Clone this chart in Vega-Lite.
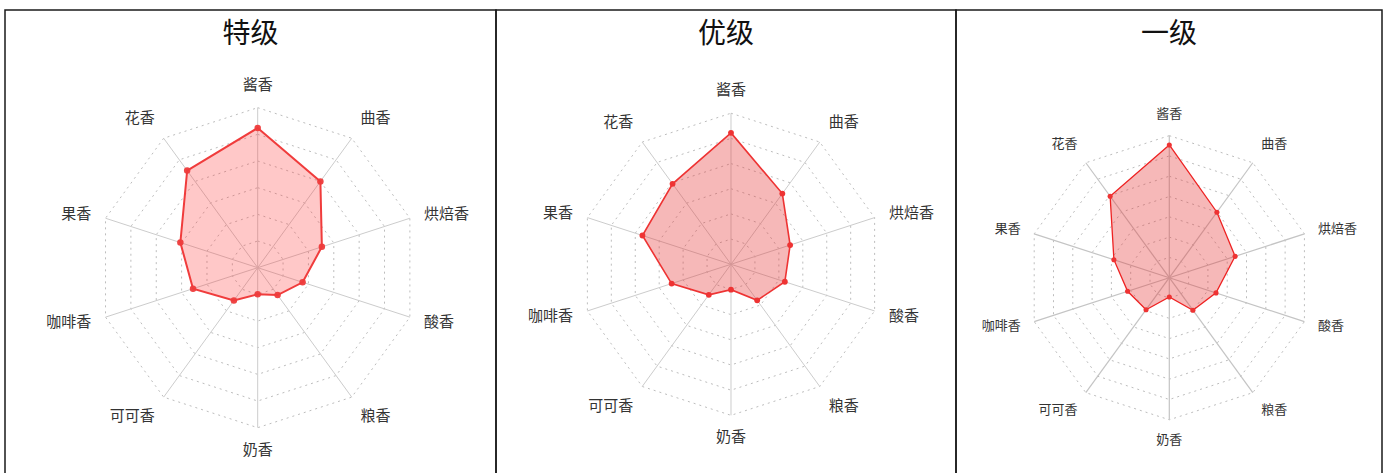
{
  "$schema": "https://vega.github.io/schema/vega-lite/v6.json",
  "padding": {"left": 4, "top": 9, "right": 0, "bottom": 0},
  "spacing": 0,
  "bounds": "flush",
  "background": "white",
  "config": {
    "view": {"stroke": "#1a1a1a", "strokeWidth": 1.5},
    "font": "Noto Sans CJK SC",
    "title": {"font": "Noto Sans CJK SC", "fontSize": 28, "fontWeight": "normal", "color": "#111", "frame": "group", "anchor": "middle", "baseline": "middle", "offset": -39}
  },
  "datasets": {
    "axes": [
      {"idx": 0, "aroma": "酱香"}, {"idx": 1, "aroma": "曲香"}, {"idx": 2, "aroma": "烘焙香"},
      {"idx": 3, "aroma": "酸香"}, {"idx": 4, "aroma": "粮香"}, {"idx": 5, "aroma": "奶香"},
      {"idx": 6, "aroma": "可可香"}, {"idx": 7, "aroma": "咖啡香"}, {"idx": 8, "aroma": "果香"},
      {"idx": 9, "aroma": "花香"}
    ],
    "rings": [
      {"level": 1, "idx": [0,1,2,3,4,5,6,7,8,9]},
      {"level": 2, "idx": [0,1,2,3,4,5,6,7,8,9]},
      {"level": 3, "idx": [0,1,2,3,4,5,6,7,8,9]},
      {"level": 4, "idx": [0,1,2,3,4,5,6,7,8,9]},
      {"level": 5, "idx": [0,1,2,3,4,5,6,7,8,9]},
      {"level": 6, "idx": [0,1,2,3,4,5,6,7,8,9]},
      {"level": 7, "idx": [0,1,2,3,4,5,6,7,8,9]}
    ],
    "scores": [
      {"grade": "特级", "aroma": "酱香", "idx": 0, "value": 5.24},
      {"grade": "特级", "aroma": "曲香", "idx": 1, "value": 4.0},
      {"grade": "特级", "aroma": "烘焙香", "idx": 2, "value": 2.53},
      {"grade": "特级", "aroma": "酸香", "idx": 3, "value": 1.77},
      {"grade": "特级", "aroma": "粮香", "idx": 4, "value": 1.27},
      {"grade": "特级", "aroma": "奶香", "idx": 5, "value": 1.0},
      {"grade": "特级", "aroma": "可可香", "idx": 6, "value": 1.52},
      {"grade": "特级", "aroma": "咖啡香", "idx": 7, "value": 2.55},
      {"grade": "特级", "aroma": "果香", "idx": 8, "value": 3.05},
      {"grade": "特级", "aroma": "花香", "idx": 9, "value": 4.5},
      {"grade": "优级", "aroma": "酱香", "idx": 0, "value": 5.22},
      {"grade": "优级", "aroma": "曲香", "idx": 1, "value": 3.47},
      {"grade": "优级", "aroma": "烘焙香", "idx": 2, "value": 2.47},
      {"grade": "优级", "aroma": "酸香", "idx": 3, "value": 2.25},
      {"grade": "优级", "aroma": "粮香", "idx": 4, "value": 1.77},
      {"grade": "优级", "aroma": "奶香", "idx": 5, "value": 1.01},
      {"grade": "优级", "aroma": "可可香", "idx": 6, "value": 1.5},
      {"grade": "优级", "aroma": "咖啡香", "idx": 7, "value": 2.48},
      {"grade": "优级", "aroma": "果香", "idx": 8, "value": 3.7},
      {"grade": "优级", "aroma": "花香", "idx": 9, "value": 3.95},
      {"grade": "一级", "aroma": "酱香", "idx": 0, "value": 6.54},
      {"grade": "一级", "aroma": "曲香", "idx": 1, "value": 3.99},
      {"grade": "一级", "aroma": "烘焙香", "idx": 2, "value": 3.41},
      {"grade": "一级", "aroma": "酸香", "idx": 3, "value": 2.42},
      {"grade": "一级", "aroma": "粮香", "idx": 4, "value": 1.98},
      {"grade": "一级", "aroma": "奶香", "idx": 5, "value": 0.95},
      {"grade": "一级", "aroma": "可可香", "idx": 6, "value": 1.95},
      {"grade": "一级", "aroma": "咖啡香", "idx": 7, "value": 2.16},
      {"grade": "一级", "aroma": "果香", "idx": 8, "value": 2.87},
      {"grade": "一级", "aroma": "花香", "idx": 9, "value": 4.96}
    ]
  },
  "hconcat": [
    {
      "width": 491, "height": 465,
      "title": {"text": "特级"},
      "encoding": {
        "x": {"field": "x", "type": "quantitative", "scale": {"domain": [-9.476, 8.936], "nice": false, "zero": false}, "axis": null},
        "y": {"field": "y", "type": "quantitative", "scale": {"domain": [-7.774, 9.663], "nice": false, "zero": false}, "axis": null}
      },
      "layer": [
        {
          "data": {"name": "rings"},
          "transform": [
            {"filter": "datum.level <= 6"},
            {"flatten": ["idx"]},
            {"calculate": "datum.level*sin(datum.idx*PI/5)", "as": "x"},
            {"calculate": "datum.level*cos(datum.idx*PI/5)", "as": "y"}
          ],
          "mark": {"type": "line", "interpolate": "linear-closed", "stroke": "#bdbdbd", "strokeWidth": 1, "strokeDash": [2, 4]},
          "encoding": {"detail": {"field": "level"}, "order": {"field": "idx", "type": "quantitative"}}
        },
        {
          "data": {"name": "axes"},
          "transform": [
            {"calculate": "6*sin(datum.idx*PI/5)", "as": "x"},
            {"calculate": "6*cos(datum.idx*PI/5)", "as": "y"}
          ],
          "mark": {"type": "rule", "stroke": "#cccccc", "strokeWidth": 1},
          "encoding": {"x2": {"datum": 0}, "y2": {"datum": 0}}
        },
        {
          "data": {"name": "axes"},
          "transform": [
            {"calculate": "6.56*sin(datum.idx*PI/5)", "as": "x"},
            {"calculate": "6.56*cos(datum.idx*PI/5)", "as": "y"}
          ],
          "mark": {"type": "text", "fontSize": 15, "color": "#333",
            "align": {"expr": "datum.idx == 0 || datum.idx == 5 ? 'center' : (datum.idx < 5 ? 'left' : 'right')"},
            "baseline": {"expr": "datum.idx <= 1 || datum.idx == 9 ? 'bottom' : (datum.idx >= 4 && datum.idx <= 6 ? 'top' : 'middle')"}},
          "encoding": {"text": {"field": "aroma"}}
        },
        {
          "data": {"name": "scores"},
          "transform": [
            {"filter": "datum.grade == '特级'"},
            {"calculate": "datum.value*sin(datum.idx*PI/5)", "as": "x"},
            {"calculate": "datum.value*cos(datum.idx*PI/5)", "as": "y"}
          ],
          "mark": {"type": "line", "interpolate": "linear-closed", "fill": "#ff3333", "fillOpacity": 0.27, "stroke": "#f03c3c", "strokeWidth": 2},
          "encoding": {"order": {"field": "idx", "type": "quantitative"}}
        },
        {
          "data": {"name": "scores"},
          "transform": [
            {"filter": "datum.grade == '特级'"},
            {"calculate": "datum.value*sin(datum.idx*PI/5)", "as": "x"},
            {"calculate": "datum.value*cos(datum.idx*PI/5)", "as": "y"}
          ],
          "mark": {"type": "circle", "color": "#ee3b3b", "opacity": 0.95, "size": 42}
        }
      ]
    },
    {
      "width": 460, "height": 465,
      "title": {"text": "优级"},
      "encoding": {
        "x": {"field": "x", "type": "quantitative", "scale": {"domain": [-9.337, 8.94], "nice": false, "zero": false}, "axis": null},
        "y": {"field": "y", "type": "quantitative", "scale": {"domain": [-8.37, 10.1], "nice": false, "zero": false}, "axis": null}
      },
      "layer": [
        {
          "data": {"name": "rings"},
          "transform": [
            {"filter": "datum.level <= 6"},
            {"flatten": ["idx"]},
            {"calculate": "datum.level*sin(datum.idx*PI/5)", "as": "x"},
            {"calculate": "datum.level*cos(datum.idx*PI/5)", "as": "y"}
          ],
          "mark": {"type": "line", "interpolate": "linear-closed", "stroke": "#bdbdbd", "strokeWidth": 1, "strokeDash": [2, 4]},
          "encoding": {"detail": {"field": "level"}, "order": {"field": "idx", "type": "quantitative"}}
        },
        {
          "data": {"name": "axes"},
          "transform": [
            {"calculate": "6*sin(datum.idx*PI/5)", "as": "x"},
            {"calculate": "6*cos(datum.idx*PI/5)", "as": "y"}
          ],
          "mark": {"type": "rule", "stroke": "#cccccc", "strokeWidth": 1},
          "encoding": {"x2": {"datum": 0}, "y2": {"datum": 0}}
        },
        {
          "data": {"name": "axes"},
          "transform": [
            {"calculate": "6.6*sin(datum.idx*PI/5)", "as": "x"},
            {"calculate": "6.6*cos(datum.idx*PI/5)", "as": "y"}
          ],
          "mark": {"type": "text", "fontSize": 15, "color": "#333",
            "align": {"expr": "datum.idx == 0 || datum.idx == 5 ? 'center' : (datum.idx < 5 ? 'left' : 'right')"},
            "baseline": {"expr": "datum.idx <= 1 || datum.idx == 9 ? 'bottom' : (datum.idx >= 4 && datum.idx <= 6 ? 'top' : 'middle')"}},
          "encoding": {"text": {"field": "aroma"}}
        },
        {
          "data": {"name": "scores"},
          "transform": [
            {"filter": "datum.grade == '优级'"},
            {"calculate": "datum.value*sin(datum.idx*PI/5)", "as": "x"},
            {"calculate": "datum.value*cos(datum.idx*PI/5)", "as": "y"}
          ],
          "mark": {"type": "line", "interpolate": "linear-closed", "fill": "#e53333", "fillOpacity": 0.35, "stroke": "#ee3333", "strokeWidth": 1.6},
          "encoding": {"order": {"field": "idx", "type": "quantitative"}}
        },
        {
          "data": {"name": "scores"},
          "transform": [
            {"filter": "datum.grade == '优级'"},
            {"calculate": "datum.value*sin(datum.idx*PI/5)", "as": "x"},
            {"calculate": "datum.value*cos(datum.idx*PI/5)", "as": "y"}
          ],
          "mark": {"type": "circle", "color": "#ee3333", "opacity": 1, "size": 34}
        }
      ]
    },
    {
      "width": 426, "height": 465,
      "title": {"text": "一级"},
      "encoding": {
        "x": {"field": "x", "type": "quantitative", "scale": {"domain": [-10.51, 10.48], "nice": false, "zero": false}, "axis": null},
        "y": {"field": "y", "type": "quantitative", "scale": {"domain": [-9.72, 13.19], "nice": false, "zero": false}, "axis": null}
      },
      "layer": [
        {
          "data": {"name": "rings"},
          "transform": [
            {"flatten": ["idx"]},
            {"calculate": "datum.level*sin(datum.idx*PI/5)", "as": "x"},
            {"calculate": "datum.level*cos(datum.idx*PI/5)", "as": "y"}
          ],
          "mark": {"type": "line", "interpolate": "linear-closed", "stroke": "#bdbdbd", "strokeWidth": 1, "strokeDash": [2, 4]},
          "encoding": {"detail": {"field": "level"}, "order": {"field": "idx", "type": "quantitative"}}
        },
        {
          "data": {"name": "axes"},
          "transform": [
            {"calculate": "7*sin(datum.idx*PI/5)", "as": "x"},
            {"calculate": "7*cos(datum.idx*PI/5)", "as": "y"}
          ],
          "mark": {"type": "rule", "stroke": "#c4c4c4", "strokeWidth": 1.2},
          "encoding": {"x2": {"datum": 0}, "y2": {"datum": 0}}
        },
        {
          "data": {"name": "axes"},
          "transform": [
            {"calculate": "7.7*sin(datum.idx*PI/5)", "as": "x"},
            {"calculate": "7.7*cos(datum.idx*PI/5)", "as": "y"}
          ],
          "mark": {"type": "text", "fontSize": 13, "color": "#333",
            "align": {"expr": "datum.idx == 0 || datum.idx == 5 ? 'center' : (datum.idx < 5 ? 'left' : 'right')"},
            "baseline": {"expr": "datum.idx <= 1 || datum.idx == 9 ? 'bottom' : (datum.idx >= 4 && datum.idx <= 6 ? 'top' : 'middle')"}},
          "encoding": {"text": {"field": "aroma"}}
        },
        {
          "data": {"name": "scores"},
          "transform": [
            {"filter": "datum.grade == '一级'"},
            {"calculate": "datum.value*sin(datum.idx*PI/5)", "as": "x"},
            {"calculate": "datum.value*cos(datum.idx*PI/5)", "as": "y"}
          ],
          "mark": {"type": "line", "interpolate": "linear-closed", "fill": "#e53333", "fillOpacity": 0.35, "stroke": "#ee2222", "strokeWidth": 1.3},
          "encoding": {"order": {"field": "idx", "type": "quantitative"}}
        },
        {
          "data": {"name": "scores"},
          "transform": [
            {"filter": "datum.grade == '一级'"},
            {"calculate": "datum.value*sin(datum.idx*PI/5)", "as": "x"},
            {"calculate": "datum.value*cos(datum.idx*PI/5)", "as": "y"}
          ],
          "mark": {"type": "circle", "color": "#ee3333", "opacity": 1, "size": 26}
        }
      ]
    }
  ]
}
